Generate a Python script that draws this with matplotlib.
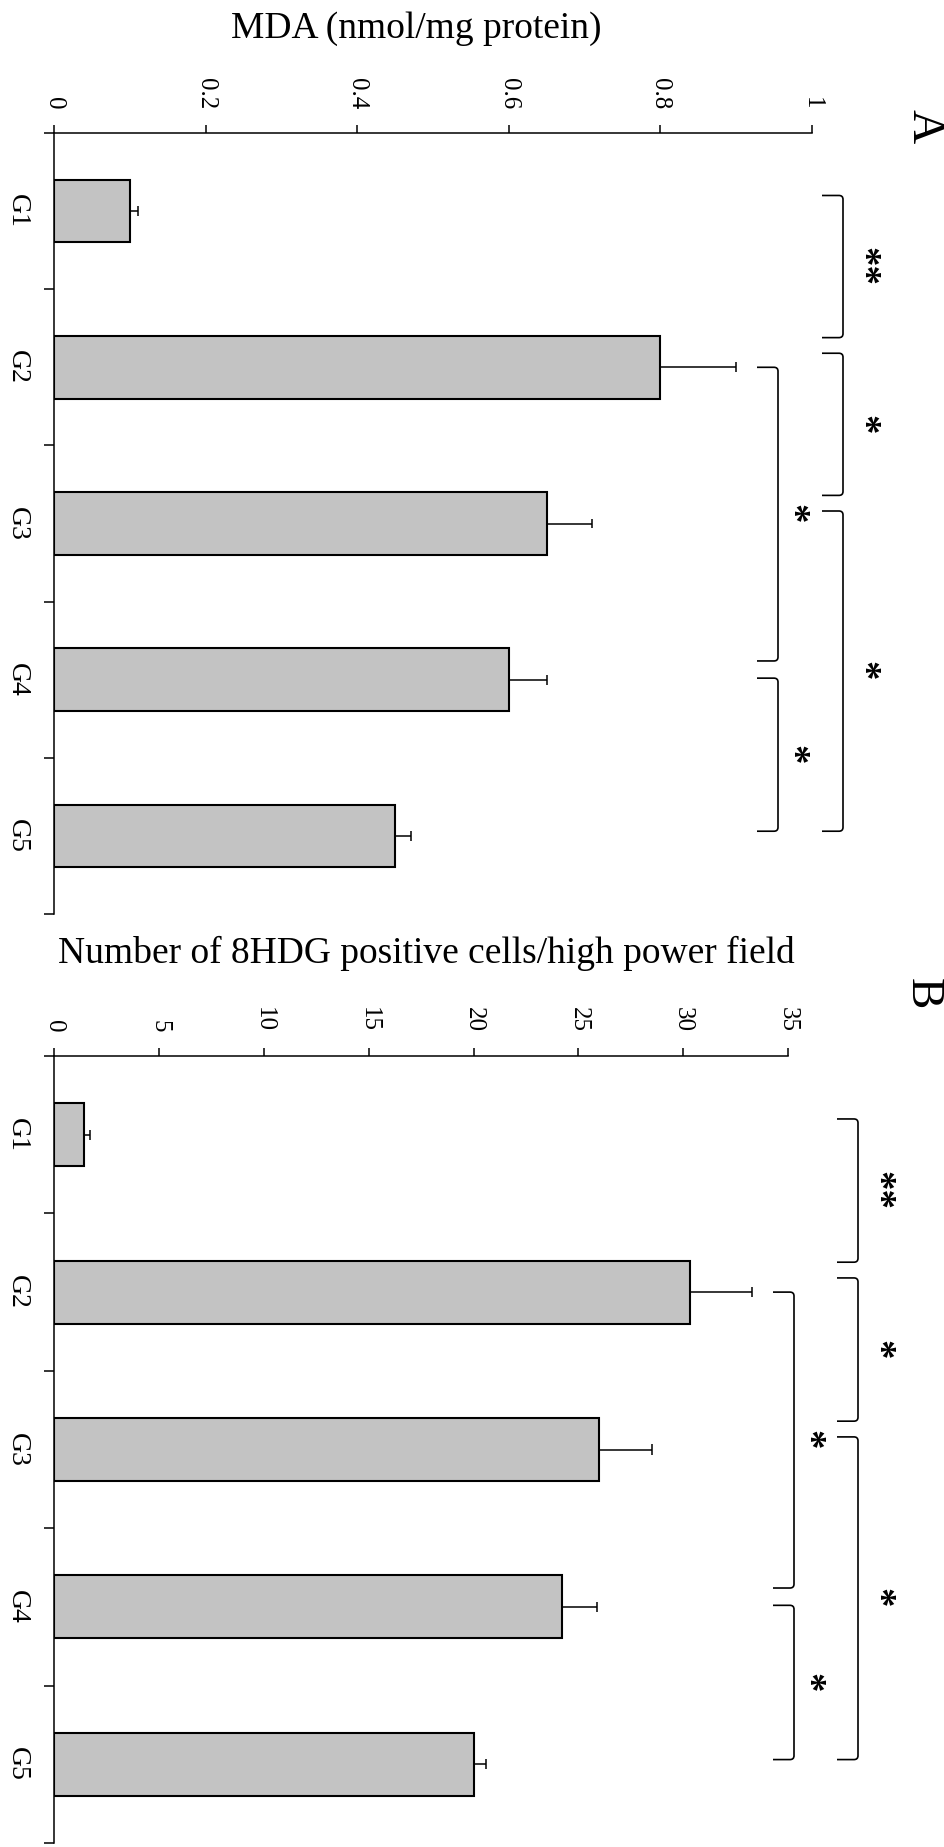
import numpy as np
import matplotlib
matplotlib.use("Agg")
import matplotlib.pyplot as plt
from matplotlib.path import Path
from matplotlib.patches import PathPatch
from matplotlib.transforms import blended_transform_factory

plt.rcParams['font.family'] = ['Liberation Serif', 'DejaVu Serif']

groups = ['G1', 'G2', 'G3', 'G4', 'G5']

# panel A: MDA
mda_mean = [0.10, 0.80, 0.65, 0.60, 0.45]
mda_err = [0.01, 0.10, 0.06, 0.05, 0.02]

# panel B: 8HDG positive cells
hdg_mean = [1.4, 30.3, 26.0, 24.2, 20.0]
hdg_err = [0.3, 3.0, 2.5, 1.7, 0.6]

# significance brackets (same for both panels)
cmp_labels = ['**', '*', '*', '*', '*']
cmp_spans = [(0.40, 1.31), (1.41, 2.32), (2.42, 4.47), (1.50, 3.38), (3.49, 4.47)]
cmp_column = ['outer', 'outer', 'outer', 'inner', 'inner']

W, H = 945, 1847
fig = plt.figure(figsize=(W / 100, H / 100), dpi=100)


def px_axes(left, top, right, bottom):
    return fig.add_axes([left / W, 1 - bottom / H, (right - left) / W, (bottom - top) / H])


def bracket(ax, xv_px, y0, y1, lab, lab_dx):
    tr = blended_transform_factory(fig.transFigure, ax.transData)
    xv = xv_px / W
    xs = (xv_px - 21) / W
    rx = 4 / W
    ry = 0.025
    verts = [(xs, y0), (xv - rx, y0), (xv, y0), (xv, y0 + ry),
             (xv, y1 - ry), (xv, y1), (xv - rx, y1), (xs, y1)]
    codes = [Path.MOVETO, Path.LINETO, Path.CURVE3, Path.CURVE3,
             Path.LINETO, Path.CURVE3, Path.CURVE3, Path.LINETO]
    ax.add_patch(PathPatch(Path(verts, codes), transform=tr, fill=False,
                           lw=1.2, edgecolor='black', clip_on=False))
    ax.text((xv_px + lab_dx) / W, (y0 + y1) / 2, lab, transform=tr,
            rotation=-90, ha='center', va='center', fontsize=28,
            fontweight='bold', clip_on=False)


def draw_panel(ax, means, errs, xmax, step, title, title_xy, letter, letter_xy,
               outer_x, inner_x):
    ypos = np.arange(len(groups)) + 0.5
    means = np.array(means)
    errs = np.array(errs)
    ax.barh(ypos, means, height=0.40, color='#c3c3c3', edgecolor='black',
            linewidth=1.5, zorder=2)
    ax.hlines(ypos, means, means + errs, color='black', lw=1.1, zorder=3)
    ax.vlines(means + errs, ypos - 0.032, ypos + 0.032, color='black', lw=1.1, zorder=3)

    ax.set_xlim(0, xmax)
    ax.set_ylim(len(groups), 0)
    for s in ['right', 'bottom']:
        ax.spines[s].set_visible(False)
    for s in ['top', 'left']:
        ax.spines[s].set_linewidth(1.1)

    ticks = np.arange(0, xmax + step / 2, step)
    ax.xaxis.tick_top()
    ax.set_xticks(ticks)
    ax.set_xticklabels([f'{t:g}' for t in ticks])
    ax.tick_params(axis='x', direction='out', length=6, width=1.1, pad=11,
                   labelsize=18, labelrotation=-90)

    ax.set_yticks(np.arange(len(groups) + 1))
    ax.set_yticklabels([])
    ax.set_yticks(ypos, minor=True)
    ax.set_yticklabels(groups, minor=True, rotation=-90, va='center')
    ax.tick_params(axis='y', which='major', direction='out', length=7, width=1.1)
    ax.tick_params(axis='y', which='minor', length=0, pad=18, labelsize=20)

    fig.text(title_xy[0] / W, 1 - title_xy[1] / H, title, ha='center', va='center',
             fontsize=27)
    fig.text(letter_xy[0] / W, 1 - letter_xy[1] / H, letter, ha='center', va='center',
             fontsize=34, rotation=-90)

    for lab, (y0, y1), col in zip(cmp_labels, cmp_spans, cmp_column):
        if col == 'outer':
            bracket(ax, outer_x, y0, y1, lab, 19)
        else:
            bracket(ax, inner_x, y0, y1, lab, 13)


ax_a = px_axes(54.5, 133, 812, 914)
draw_panel(ax_a, mda_mean, mda_err, 1.0, 0.2, 'MDA (nmol/mg protein)', (416, 29),
           'A', (924, 126), 843, 778)

ax_b = px_axes(54.5, 1056, 788, 1843)
draw_panel(ax_b, hdg_mean, hdg_err, 35, 5,
           'Number of 8HDG positive cells/high power field', (426, 953),
           'B', (922, 994), 858, 794)

fig.savefig('out.png', dpi=100)
